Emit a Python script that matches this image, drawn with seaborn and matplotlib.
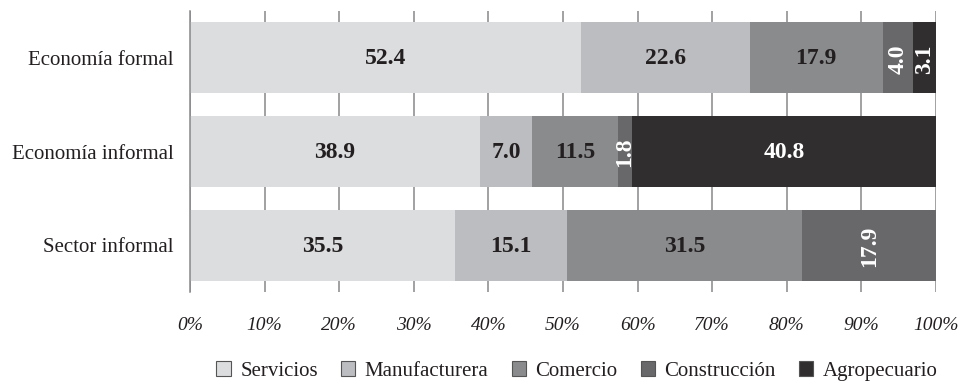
import matplotlib
matplotlib.use("Agg")
import matplotlib.pyplot as plt
from matplotlib.patches import Patch
import numpy as np
import pandas as pd
import seaborn as sns

# Distribución del empleo por rama de actividad (%)
categories = ["Economía formal", "Economía informal", "Sector informal"]
series = ["Servicios", "Manufacturera", "Comercio", "Construcción", "Agropecuario"]
servicios = [52.4, 38.9, 35.5]
manufacturera = [22.6, 7.0, 15.1]
comercio = [17.9, 11.5, 31.5]
construccion = [4.0, 1.8, 17.9]
agropecuario = [3.1, 40.8, 0.0]
tick_labels = ["0%", "10%", "20%", "30%", "40%", "50%", "60%", "70%", "80%", "90%", "100%"]

colors = ["#dcdddf", "#bcbdc0", "#8a8b8d", "#68686a", "#302e2f"]
text_colors = ["#231f20", "#231f20", "#231f20", "white", "white"]

values = np.array([servicios, manufacturera, comercio, construccion, agropecuario])
cum = np.cumsum(values, axis=0)

sns.set_theme(style="white")
plt.rcParams["font.family"] = ["Liberation Serif", "DejaVu Serif"]

fig = plt.figure(figsize=(9.63, 3.82), dpi=100)
ax = fig.add_axes([190 / 963, 1 - 292 / 382, 746 / 963, 281 / 382])

# Stacked bars: draw cumulative totals from the last series backwards
for i in range(len(series) - 1, -1, -1):
    df = pd.DataFrame({"categoria": categories, "total": cum[i]})
    sns.barplot(data=df, x="total", y="categoria", orient="h", color=colors[i],
                saturation=1, width=0.755, ax=ax, zorder=2, linewidth=0)

# Value labels centred in each segment
for i, name in enumerate(series):
    for j, cat in enumerate(categories):
        v = values[i, j]
        if v <= 0:
            continue
        center = cum[i, j] - v / 2
        rot = 90 if (v < 5 or name == "Construcción") else 0
        ax.text(center, j + 0.01, f"{v:.1f}", ha="center", va="center", rotation=rot,
                fontsize=17, fontweight="bold", color=text_colors[i], zorder=5)

ax.set_xlim(0, 100)
ax.set_ylim(2.5, -0.5)
ax.set_xticks(np.arange(0, 101, 10))
ax.set_xticklabels(tick_labels, fontstyle="italic", fontsize=14, color="#231f20")
ax.tick_params(axis="x", length=0, pad=18)
ax.tick_params(axis="y", length=0, pad=12, labelsize=15, labelcolor="#231f20")
ax.set_xlabel("")
ax.set_ylabel("")

ax.grid(axis="x", color="#87888a", linewidth=1.1, zorder=0)
ax.grid(axis="y", visible=False)
ax.set_axisbelow(True)
for s in ["top", "right", "bottom"]:
    ax.spines[s].set_visible(False)
ax.spines["left"].set_color("#87888a")
ax.spines["left"].set_linewidth(1.1)

handles = [Patch(facecolor=c, edgecolor="#555555", linewidth=0.8) for c in colors]
fig.legend(handles, series, loc="center", bbox_to_anchor=(577 / 963, 1 - 371 / 382),
           ncol=5, frameon=False, fontsize=15, handlelength=0.7, handleheight=0.7,
           handletextpad=0.45, columnspacing=1.1, labelcolor="#231f20")

fig.savefig("out.png", dpi=100)
